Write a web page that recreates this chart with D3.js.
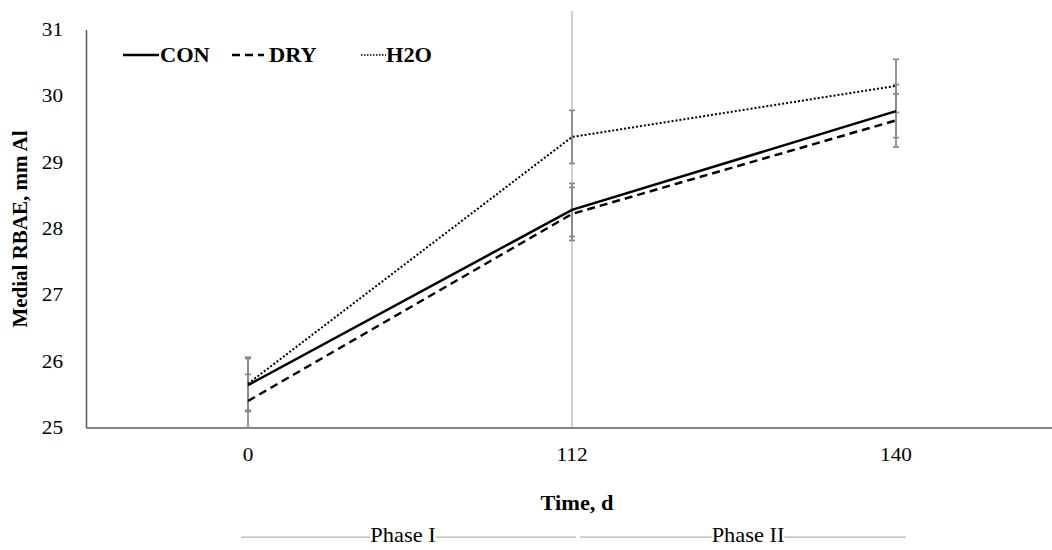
<!DOCTYPE html>
<html>
<head>
<meta charset="utf-8">
<script src="https://cdn.jsdelivr.net/npm/d3@7"></script>
<style>
  html, body { margin: 0; padding: 0; background: #fff; }
  svg { display: block; }
</style>
</head>
<body>
<svg id="chart" width="1052" height="550"></svg>
<script>
// Sampling days (categories)
const days = ["0", "112", "140"];

// Medial RBAE (mm Al) per treatment
const conValues = [25.64, 28.28, 29.77];
const dryValues = [25.40, 28.22, 29.63];
const h2oValues = [25.66, 29.38, 30.15];

// Standard errors per treatment
const conErr = [0.4, 0.4, 0.4];
const dryErr = [0.4, 0.4, 0.4];
const h2oErr = [0.4, 0.4, 0.4];

// Y axis ticks
const yTicks = [25, 26, 27, 28, 29, 30, 31];

// Phases along the time axis
const phaseLabels = ["Phase I", "Phase II"];

const series = [
  { name: "CON", values: conValues, err: conErr, dash: null },
  { name: "DRY", values: dryValues, err: dryErr, dash: "8,5" },
  { name: "H2O", values: h2oValues, err: h2oErr, dash: "2,2" }
];

const FONT = "'Times New Roman', 'Liberation Serif', 'DejaVu Serif', serif";
const WIDEN = 1.12; // horizontal text stretch

const svg = d3.select("#chart");

const plotLeft = 86, plotRight = 1058, plotTop = 29.5, plotBottom = 427.5;

const x = d3.scaleBand().domain(days).range([plotLeft, plotRight]).padding(0);
const cx = d => x(d) + x.bandwidth() / 2;
const y = d3.scaleLinear().domain([25, 31]).range([plotBottom, plotTop]);

function label(px, py, txt, size, bold, anchor) {
  return svg.append("text")
    .attr("transform", `translate(${px},${py}) scale(${WIDEN},1)`)
    .attr("text-anchor", anchor || "start")
    .attr("font-family", FONT)
    .style("font-family", FONT)
    .style("font-size", size + "px")
    .style("font-weight", bold ? "bold" : "normal")
    .attr("fill", "#000")
    .text(txt);
}

// Divider between phases at day 112
svg.append("line")
  .attr("x1", cx("112")).attr("x2", cx("112"))
  .attr("y1", 11).attr("y2", plotBottom)
  .attr("stroke", "#d0d0d0").attr("stroke-width", 2);

// Y axis
const yAxis = svg.append("g")
  .attr("transform", `translate(${plotLeft},0)`)
  .call(d3.axisLeft(y).tickValues(yTicks).tickSize(0).tickPadding(20.5).tickFormat(d3.format("d")));
yAxis.select(".domain").attr("stroke", "#595959").attr("stroke-width", 1.5);
yAxis.selectAll("text")
  .attr("font-family", FONT).style("font-family", FONT)
  .style("font-size", "19px").attr("fill", "#000")
  .attr("transform", `scale(${WIDEN},1)`);

// X axis
const xAxis = svg.append("g")
  .attr("transform", `translate(0,${plotBottom})`)
  .call(d3.axisBottom(x).tickSize(0).tickPadding(20));
xAxis.select(".domain").attr("stroke", "#595959").attr("stroke-width", 1.5);
xAxis.selectAll("text")
  .attr("font-family", FONT).style("font-family", FONT)
  .style("font-size", "19px").attr("fill", "#000")
  .attr("transform", `scale(${WIDEN},1)`);

// Error bars
series.forEach(s => {
  const g = svg.append("g");
  days.forEach((d, i) => {
    const xc = cx(d);
    const lo = y(s.values[i] - s.err[i]);
    const hi = y(s.values[i] + s.err[i]);
    g.append("line").attr("x1", xc).attr("x2", xc).attr("y1", lo).attr("y2", hi)
      .attr("stroke", "#8a8a8a").attr("stroke-width", 1.75);
    [lo, hi].forEach(v => {
      g.append("line").attr("x1", xc - 3).attr("x2", xc + 3).attr("y1", v).attr("y2", v)
        .attr("stroke", "#8a8a8a").attr("stroke-width", 1.75);
    });
  });
});

// Lines
const line = d3.line().x((v, i) => cx(days[i])).y(v => y(v));
series.forEach(s => {
  svg.append("path")
    .datum(s.values)
    .attr("d", line)
    .attr("fill", "none")
    .attr("stroke", "#000")
    .attr("stroke-width", s.name === "H2O" ? 2 : 2.5)
    .attr("stroke-dasharray", s.dash);
});

// Legend
const legendItems = [
  { s: series[0], x1: 123, x2: 159, tx: 160 },
  { s: series[1], x1: 232, x2: 264, tx: 269 },
  { s: series[2], x1: 361, x2: 386, tx: 386 }
];
legendItems.forEach(it => {
  svg.append("line")
    .attr("x1", it.x1).attr("x2", it.x2).attr("y1", 55).attr("y2", 55)
    .attr("stroke", "#000")
    .attr("stroke-width", it.s.name === "H2O" ? 1.5 : 2.5)
    .attr("stroke-dasharray", it.s.name === "H2O" ? "1.5,1.5" : it.s.dash);
  label(it.tx, 62, it.s.name, 20, true, "start");
});

// Axis titles
label(577, 510, "Time, d", 20, true, "middle");

svg.append("text")
  .attr("transform", `translate(27,229) rotate(-90)`)
  .attr("text-anchor", "middle")
  .attr("font-family", FONT).style("font-family", FONT)
  .style("font-size", "21px").style("font-weight", "bold")
  .attr("fill", "#000")
  .text("Medial RBAE, mm Al");

// Phase brackets below the time axis
const phaseSpans = [
  { label: phaseLabels[0], x1: 241, x2: 576, tc: 403 },
  { label: phaseLabels[1], x1: 580, x2: 906, tc: 748 }
];
phaseSpans.forEach(p => {
  const t = label(p.tc, 542, p.label, 20, false, "middle");
  const bb = t.node().getBoundingClientRect();
  const svgBox = svg.node().getBoundingClientRect();
  const tx0 = bb.left - svgBox.left, tx1 = bb.right - svgBox.left;
  svg.append("line").attr("x1", p.x1).attr("x2", tx0).attr("y1", 537).attr("y2", 537)
    .attr("stroke", "#b4b4b4").attr("stroke-width", 1.25);
  svg.append("line").attr("x1", tx1).attr("x2", p.x2).attr("y1", 537).attr("y2", 537)
    .attr("stroke", "#b4b4b4").attr("stroke-width", 1.25);
});
</script>
</body>
</html>
